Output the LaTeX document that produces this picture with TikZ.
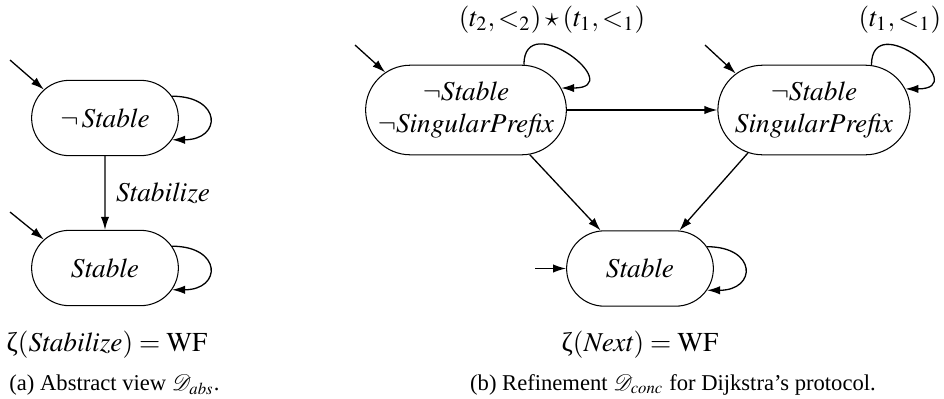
\documentclass[tikz,border=0pt]{standalone}
\usepackage{mathptmx}
\usepackage{fontspec}
\setmainfont{Liberation Serif}
\usetikzlibrary{shapes.misc,arrows.meta}

\begin{document}
\begin{tikzpicture}[x=0.385pt, y=0.385pt, >={Latex[length=5pt,width=3.2pt]},
    state/.style={draw, rounded rectangle, line width=0.4pt, minimum width=58.5pt,
      minimum height=29pt, inner sep=1pt, align=center, font=\fontsize{10.5}{12}\selectfont},
    widestate/.style={state, minimum width=76pt, minimum height=34.5pt},
    trans/.style={->, line width=0.5pt},
    txt/.style={font=\fontsize{10.5}{12.5}\selectfont, inner sep=0pt},
    captxt/.style={font=\fontsize{8.7}{10}\selectfont, inner sep=0pt}]
  \useasboundingbox (0,0) rectangle (944,398);

  % --- (a) Abstract view ---
  \node[state] (sa) at (105,280) {$\neg\,\mathit{Stable}$};
  \node[state] (sb) at (105,130) {$\mathit{Stable}$};

  % initial arrows
  \coordinate (ia) at (10,338);
  \coordinate (ib) at (10,186);
  \draw[trans] (ia) -- (sa.155);
  \draw[trans] (ib) -- (sb.155);

  % transition and self loops
  \draw[trans] (sa) -- node[txt, right=4pt] {$\mathit{Stabilize}$} (sb);
  \draw[trans] (sa.18) .. controls +(50,0) and +(50,0) .. (sa.-18);
  \draw[trans] (sb.18) .. controls +(50,0) and +(50,0) .. (sb.-18);

  \node[txt] (za) at (107,53) {ζ$(\mathit{Stabilize}) = \mathrm{WF}$};
  \node[captxt] (ca) at (114.5,13) {(a) Abstract view $\mathcal{D}_{\mathit{abs}}$.};

  % --- (b) Refinement ---
  \node[widestate] (n1) at (466,288) {$\neg\mathit{Stable}$\\$\neg\mathit{SingularPrefix}$};
  \node[widestate] (n2) at (814,288) {$\neg\mathit{Stable}$\\$\mathit{SingularPrefix}$};
  \node[state] (n3) at (640,129.5) {$\mathit{Stable}$};

  % initial arrows
  \coordinate (i1) at (355,353);
  \coordinate (i2) at (705,353);
  \coordinate (i3) at (535,129.5);
  \draw[trans] (i1) -- (n1.155);
  \draw[trans] (i2) -- (n2.155);
  \draw[trans] (i3) -- (n3.west);

  % transitions
  \draw[trans] (n1.east) -- (n2.west);
  \draw[trans] (n1.-35) -- (n3.136);
  \draw[trans] (n2.-147) -- (n3.44);

  % self loops
  \draw[trans] (n1.38) .. controls +(0,58) and +(68,0) .. (n1.13);
  \draw[trans] (n2.38) .. controls +(0,58) and +(68,0) .. (n2.13);
  \draw[trans] (n3.18) .. controls +(50,0) and +(50,0) .. (n3.-18);
  \node[txt] (l1) at (552,378) {$(t_2,<_2)\star(t_1,<_1)$};
  \node[txt] (l2) at (900,378) {$(t_1,<_1)$};

  \node[txt] (zb) at (640,53) {ζ$(\mathit{Next}) = \mathrm{WF}$};
  \node[captxt] (cb) at (673,13) {(b) Refinement $\mathcal{D}_{\mathit{conc}}$ for Dijkstra's protocol.};
\end{tikzpicture}
\end{document}
